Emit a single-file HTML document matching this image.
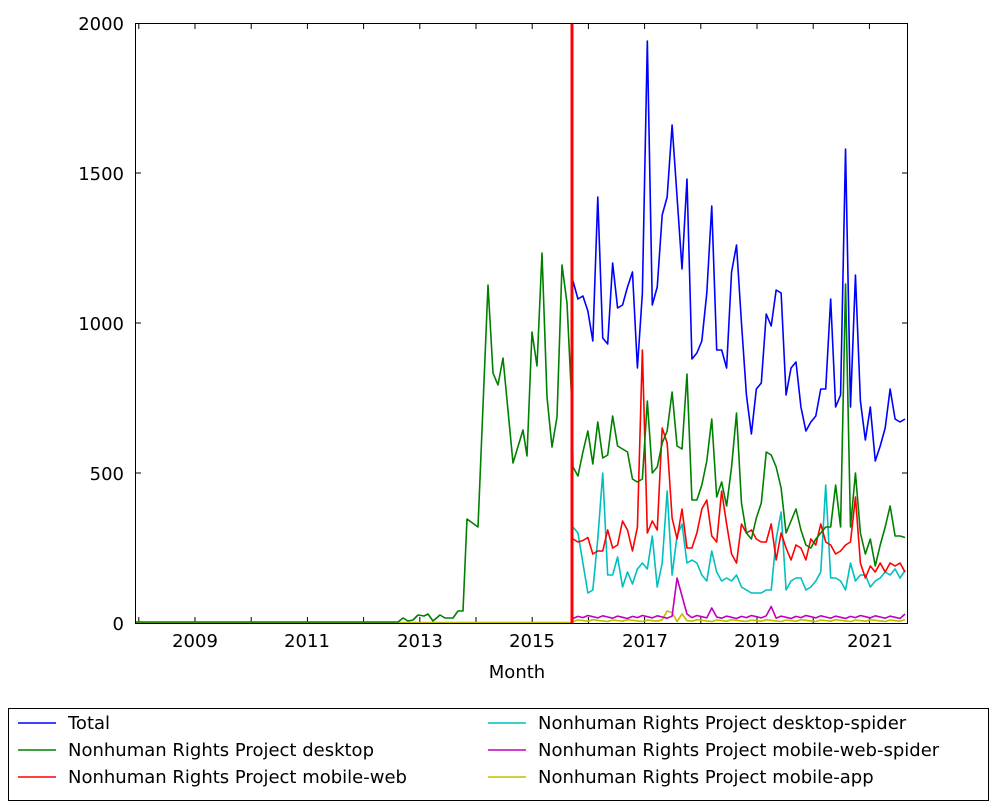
<!DOCTYPE html>
<html><head><meta charset="utf-8"><style>
body{margin:0;background:#fff;}
svg text{font-family:"DejaVu Sans","Liberation Sans",sans-serif;fill:#000}
</style></head><body>
<svg id="s" width="995" height="804" xmlns="http://www.w3.org/2000/svg">
<g font-size="18">
<text x="124" y="630" text-anchor="end">0</text>
<text x="124" y="480" text-anchor="end">500</text>
<text x="124" y="330" text-anchor="end">1000</text>
<text x="124" y="180" text-anchor="end">1500</text>
<text x="124" y="30" text-anchor="end">2000</text>
<text x="195" y="647" text-anchor="middle">2009</text>
<text x="307" y="647" text-anchor="middle">2011</text>
<text x="420" y="647" text-anchor="middle">2013</text>
<text x="532" y="647" text-anchor="middle">2015</text>
<text x="645" y="647" text-anchor="middle">2017</text>
<text x="757" y="647" text-anchor="middle">2019</text>
<text x="870" y="647" text-anchor="middle">2021</text>
<text x="517" y="678" text-anchor="middle">Month</text>
</g>
<g id="ticks" stroke="#000" stroke-width="1"></g>
<g id="lines" fill="none" stroke-width="1.6" stroke-linejoin="round"></g>
<line x1="572" y1="23" x2="572" y2="623" stroke="#f00" stroke-width="3"/>
<rect x="135.5" y="23.5" width="772" height="600" fill="none" stroke="#000" stroke-width="1"/>
<rect x="8.5" y="708.5" width="980" height="92" fill="none" stroke="#000" stroke-width="1"/>
<g font-size="18" stroke-width="1.5">
<line x1="18" y1="723" x2="56" y2="723" stroke="#00f"/><text x="68" y="729">Total</text>
<line x1="18" y1="750" x2="56" y2="750" stroke="#008000"/><text x="68" y="756">Nonhuman Rights Project desktop</text>
<line x1="18" y1="777" x2="56" y2="777" stroke="#f00"/><text x="68" y="783">Nonhuman Rights Project mobile-web</text>
<line x1="488" y1="723" x2="526" y2="723" stroke="#00bfbf"/><text x="538" y="729">Nonhuman Rights Project desktop-spider</text>
<line x1="488" y1="750" x2="526" y2="750" stroke="#bf00bf"/><text x="538" y="756">Nonhuman Rights Project mobile-web-spider</text>
<line x1="488" y1="777" x2="526" y2="777" stroke="#bfbf00"/><text x="538" y="783">Nonhuman Rights Project mobile-app</text>
</g>
</svg>
<script>
var NS="http://www.w3.org/2000/svg";
var tk=document.getElementById("ticks"),ln=document.getElementById("lines");
function L(x1,y1,x2,y2){var l=document.createElementNS(NS,"line");l.setAttribute("x1",x1);l.setAttribute("y1",y1);l.setAttribute("x2",x2);l.setAttribute("y2",y2);tk.appendChild(l);}
for(var y=2008;y<=2021;y++){var x=138.8+(y-2008)*56.2;if(x>136&&x<907){L(x,623,x,617);L(x,23,x,29);}}
for(var v=500;v<2000;v+=500){var yy=623-v*0.3;L(135,yy,141,yy);L(908,yy,902,yy);}
function P(pts,c){var p=document.createElementNS(NS,"polyline");p.setAttribute("points",pts.map(function(a){return a[0]+","+a[1]}).join(" "));p.setAttribute("stroke",c);ln.appendChild(p);}
function S(vals,c,pre){var n=vals.length,pts=pre?pre.slice():[];for(var i=0;i<n;i++){pts.push([573+i*(332/(n-1)),623-vals[i]*0.3]);}P(pts,c);}
var pre=[[135,622],[398,622],[403,618],[408,621],[413,620],[418,615],[424,616],[428,614],[433,621],[440,615],[445,618],[453,618],[458,611],[463,611],[467,519],[478,527],[488,285],[493,373],[498,385],[503,358],[513,463],[523,430],[527,456],[532,332],[537,366],[542,253],[547,397],[552,447],[557,417],[562,265],[567,303],[572,407]];
var flat=[[135,622.5],[572,622.5]];
P(flat,"#bfbf00");
var tot=[1140,1080,1090,1040,940,1420,950,930,1200,1050,1060,1120,1170,850,1100,1940,1060,1120,1360,1420,1660,1420,1180,1480,880,900,940,1100,1390,910,910,850,1170,1260,1000,760,630,780,800,1030,990,1110,1100,760,850,870,720,640,670,690,780,780,1080,720,760,1580,720,1160,740,610,720,540,590,650,780,680,670,680];
var desk=[520,490,570,640,530,670,550,560,690,590,580,570,480,470,480,740,500,520,600,640,770,590,580,830,410,410,460,540,680,420,470,390,520,700,400,300,280,350,400,570,560,520,450,300,340,380,310,260,250,280,300,320,320,460,320,1130,320,500,300,230,280,190,260,320,390,290,290,285];
var mw=[280,270,275,285,230,240,240,310,250,260,340,310,240,320,910,300,340,310,650,600,350,280,380,250,250,300,380,410,290,270,440,330,230,200,330,300,310,280,270,270,330,210,300,250,210,260,250,210,280,260,330,270,260,230,240,260,270,420,200,150,190,170,200,170,200,190,200,170];
var ds=[320,300,200,100,110,280,500,160,160,220,120,170,130,180,200,180,290,120,200,440,160,290,330,200,210,200,160,140,240,170,140,150,140,160,120,110,100,100,100,110,110,280,370,110,140,150,150,110,120,140,170,460,150,150,140,110,200,140,160,160,120,140,150,170,160,180,150,175];
var mws=[],app=[];for(var i=0;i<68;i++){mws.push(15+(i*7%11));app.push(5+(i*5%7));}
mws[21]=150;mws[22]=90;mws[23]=30;mws[28]=50;mws[40]=55;mws[67]=30;
app[19]=40;app[20]=35;app[22]=30;
S(app,"#bfbf00");S(mws,"#bf00bf");S(ds,"#00bfbf");S(mw,"#f00");S(desk,"#008000",pre);S(tot,"#00f");
</script>
</body></html>
